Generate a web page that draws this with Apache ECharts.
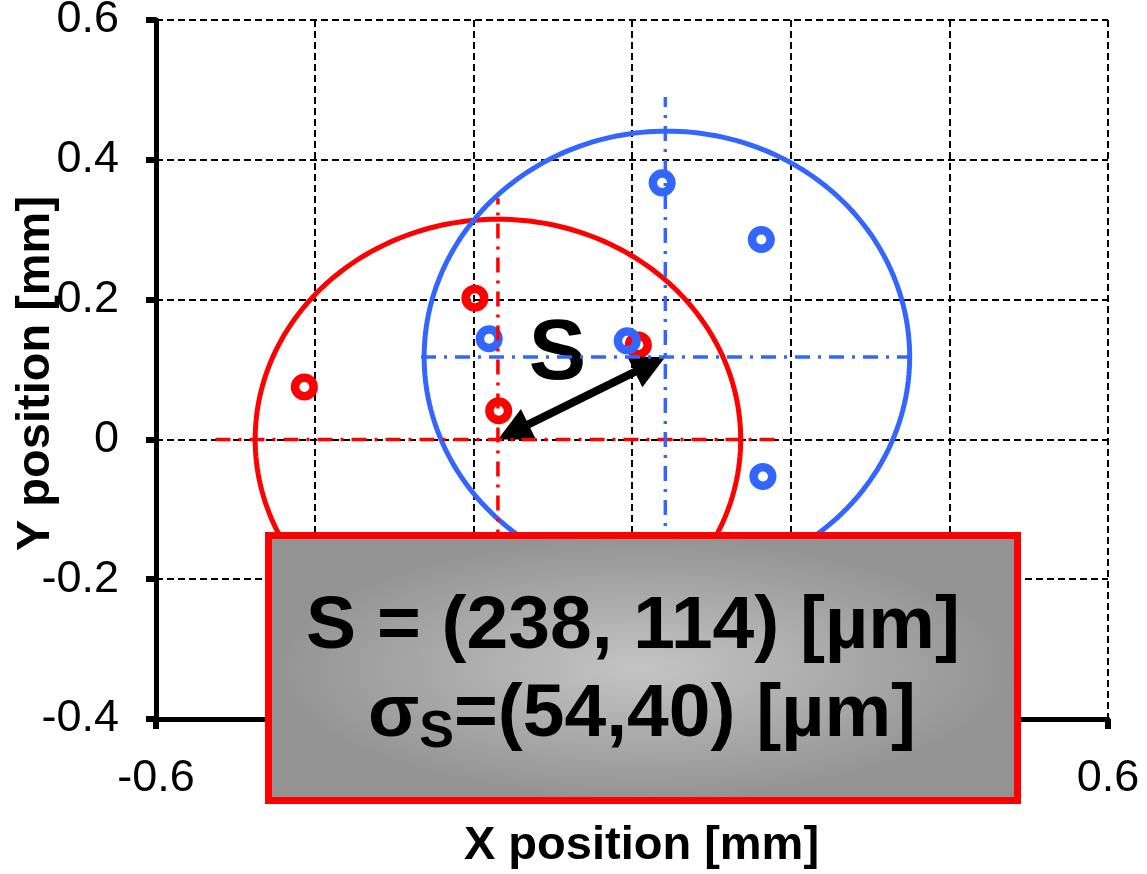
<!DOCTYPE html>
<html><head><meta charset="utf-8">
<script src="https://cdn.jsdelivr.net/npm/echarts@6/dist/echarts.min.js"></script>
<style>html,body{margin:0;padding:0;background:#fff}#c{width:1147px;height:874px}</style>
</head><body><div id="c"></div>
<script>
const FONT = "'Liberation Sans', Arial, sans-serif";
const RED = '#ff0000';
const BLUE = '#3366ff';

// measured points
const redPoints = [[-0.413, 0.075], [-0.198, 0.202], [-0.168, 0.041], [0.008, 0.135]];
const bluePoints = [[0.038, 0.367], [0.163, 0.286], [-0.180, 0.144], [-0.006, 0.141], [0.165, -0.053]];
// fitted centres and radii [cx, cy, rx, ry]
const redCenter = [-0.169, 0];
const blueCenter = [0.042, 0.118];
const redEllipse = [[-0.169, 0, 0.306, 0.315]];
const blueEllipse = [[0.044, 0.118, 0.306, 0.323]];
// centre cross lines
const redCrossH = [[-0.525, 0], [0.19, 0]];
const redCrossV = [[-0.169, -0.345], [-0.169, 0.345]];
const blueCrossH = [[-0.266, 0.118], [0.348, 0.118]];
const blueCrossV = [[0.042, -0.254], [0.042, 0.49]];
// shift arrow and label
const arrowData = [[redCenter[0], redCenter[1], blueCenter[0], blueCenter[1]]];
const sLabel = [[-0.094, 0.12, 'S']];
// axes
const xRange = { min: -0.6, max: 0.6, interval: 0.2 };
const yRange = { min: -0.4, max: 0.6, interval: 0.2 };
// texts
const xTitle = 'X position [mm]';
const yTitle = 'Y position [mm]';
const boxLine1 = 'S = (238, 114) [µm]';
const boxLine2 = '{a|σ}{b|S}{a|=(54,40) [µm]}';

function ellipseItem(color) {
  return function (params, api) {
    const c = api.coord([api.value(0), api.value(1)]);
    const s = api.size([api.value(2), api.value(3)]);
    const pts = [];
    for (let i = 0; i < 240; i++) {
      const t = i / 240 * 2 * Math.PI;
      pts.push([c[0] + s[0] * Math.cos(t), c[1] + s[1] * Math.sin(t)]);
    }
    return { type: 'polygon', shape: { points: pts }, style: { fill: null, stroke: color, lineWidth: 5 } };
  };
}
function ringItem(color) {
  return function (params, api) {
    const c = api.coord([api.value(0), api.value(1)]);
    return { type: 'circle', shape: { cx: c[0], cy: c[1], r: 9.3 }, style: { fill: null, stroke: color, lineWidth: 8.5 } };
  };
}
function arrowItem(params, api) {
  const p1 = api.coord([api.value(0), api.value(1)]);
  const p2 = api.coord([api.value(2), api.value(3)]);
  const dx = p2[0] - p1[0], dy = p2[1] - p1[1];
  const len = Math.hypot(dx, dy);
  const ux = dx / len, uy = dy / len, nx = -uy, ny = ux;
  const L = 34, W = 17;
  const head = (tip, dir) => {
    const bx = tip[0] - dir * ux * L, by = tip[1] - dir * uy * L;
    return [[tip[0], tip[1]], [bx + nx * W, by + ny * W], [bx - nx * W, by - ny * W]];
  };
  return { type: 'group', children: [
    { type: 'line', shape: { x1: p1[0] + ux * L * 0.8, y1: p1[1] + uy * L * 0.8, x2: p2[0] - ux * L * 0.8, y2: p2[1] - uy * L * 0.8 }, style: { stroke: '#000', lineWidth: 8 } },
    { type: 'polygon', shape: { points: head(p2, 1) }, style: { fill: '#000' } },
    { type: 'polygon', shape: { points: head(p1, -1) }, style: { fill: '#000' } }
  ] };
}
function textItem(params, api) {
  const c = api.coord([api.value(0), api.value(1)]);
  return { type: 'text', x: c[0], y: c[1],
    style: { text: sLabel[params.dataIndex][2], fill: '#000', font: 'bold 86px ' + FONT, textAlign: 'center', textVerticalAlign: 'middle' } };
}
function crossLine(data, color) {
  return { type: 'line', data: data, symbol: 'none', silent: true,
    lineStyle: { color: color, width: 3.5, type: [15, 8, 3, 8] } };
}
function points(data, color) {
  return { type: 'custom', data: data, renderItem: ringItem(color), encode: { x: 0, y: 1 }, silent: true };
}
const axisCommon = {
  type: 'value',
  axisLine: { onZero: false, lineStyle: { color: '#000', width: 5 } },
  axisTick: { show: true, length: 10, lineStyle: { color: '#000', width: 6 } },
  axisLabel: { fontSize: 45, color: '#000', fontFamily: FONT, margin: 37 },
  splitLine: { show: true, lineStyle: { color: '#000', width: 2, type: [7, 4] } },
  nameLocation: 'middle',
  nameMoveOverlap: false
};

const chart = echarts.init(document.getElementById('c'), null, { renderer: 'canvas' });
chart.setOption({
  animation: false,
  backgroundColor: '#fff',
  grid: { left: 156, right: 39, top: 20, bottom: 155, containLabel: false, outerBoundsMode: 'none' },
  xAxis: Object.assign({}, axisCommon, xRange, {
    name: xTitle, nameGap: 104,
    nameTextStyle: { fontSize: 47, fontWeight: 'bold', color: '#000', fontFamily: FONT, padding: [0, 0, 0, 19] }
  }),
  yAxis: Object.assign({}, axisCommon, yRange, {
    name: yTitle, nameGap: 96,
    nameTextStyle: { fontSize: 47, fontWeight: 'bold', color: '#000', fontFamily: FONT, padding: [0, 8, 0, 0] }
  }),
  series: [
    { type: 'custom', data: redEllipse, renderItem: ellipseItem(RED), encode: { x: 0, y: 1 }, silent: true },
    crossLine(redCrossH, RED),
    crossLine(redCrossV, RED),
    points(redPoints, RED),
    { type: 'custom', data: blueEllipse, renderItem: ellipseItem(BLUE), encode: { x: 0, y: 1 }, silent: true },
    crossLine(blueCrossH, BLUE),
    crossLine(blueCrossV, BLUE),
    points(bluePoints, BLUE),
    { type: 'custom', data: arrowData, renderItem: arrowItem, encode: { x: [0, 2], y: [1, 3] }, silent: true },
    { type: 'custom', data: sLabel, renderItem: textItem, encode: { x: 0, y: 1 }, silent: true }
  ],
  graphic: [
    { type: 'rect', z: 100, x: 268.5, y: 535.5, scaleX: 749 / 265, silent: true,
      shape: { x: 0, y: 0, width: 265, height: 265 },
      style: { fill: { type: 'radial', x: 0.5, y: 0.5, r: 0.5, colorStops: [{ offset: 0, color: '#c4c4c4' }, { offset: 1, color: '#939393' }] } } },
    { type: 'rect', z: 101, silent: true, shape: { x: 268.5, y: 535.5, width: 749, height: 265 },
      style: { fill: null, stroke: RED, lineWidth: 7 } },
    { type: 'text', z: 102, x: 633, y: 627, silent: true,
      style: { text: boxLine1, fill: '#000', font: 'bold 75px ' + FONT, textAlign: 'center', textVerticalAlign: 'middle' } },
    { type: 'text', z: 102, x: 642, y: 715, silent: true,
      style: { text: boxLine2, fill: '#000', textAlign: 'center', textVerticalAlign: 'middle',
        rich: {
          a: { fontSize: 75, fontWeight: 'bold', fontFamily: FONT, lineHeight: 88, verticalAlign: 'middle', textVerticalAlign: 'middle', fill: '#000', textFill: '#000' },
          b: { fontSize: 52, fontWeight: 'bold', fontFamily: FONT, lineHeight: 40, verticalAlign: 'bottom', textVerticalAlign: 'bottom', fill: '#000', textFill: '#000' }
        } } }
  ]
});
</script>
</body></html>
